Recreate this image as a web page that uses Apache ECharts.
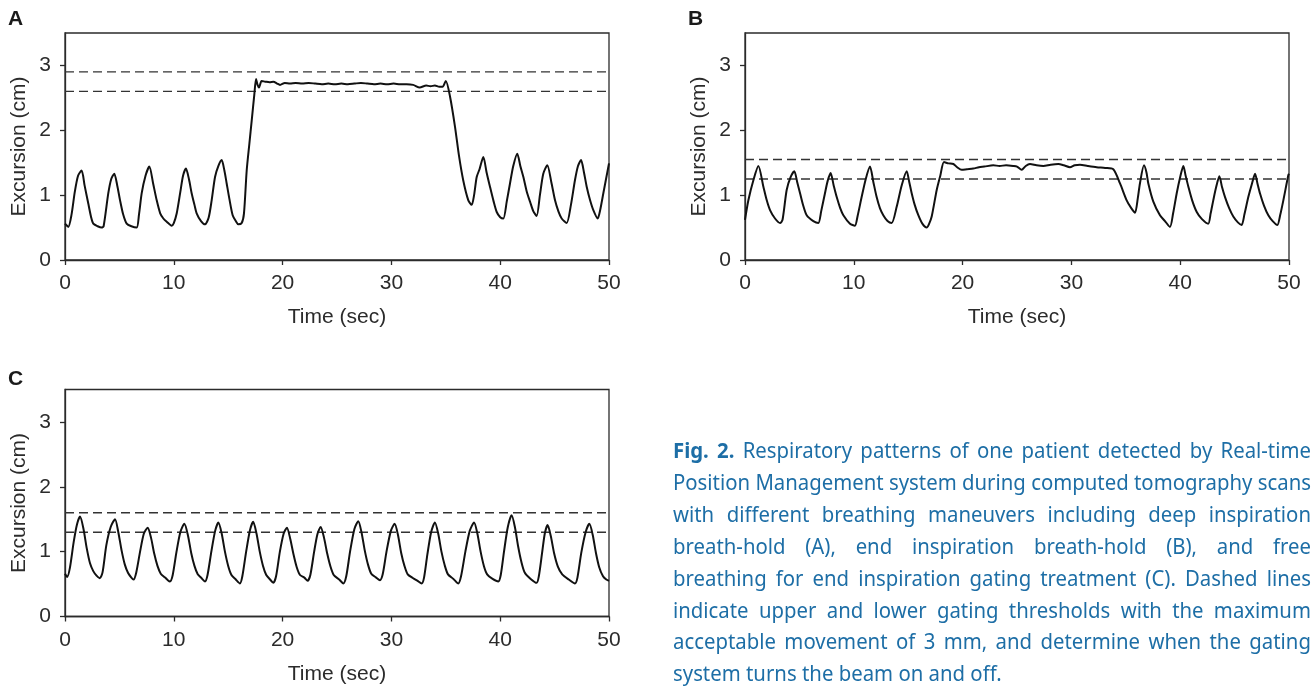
<!DOCTYPE html>
<html>
<head>
<meta charset="utf-8">
<script src="https://cdn.jsdelivr.net/npm/echarts@6/dist/echarts.min.js"></script>
<style>
  html, body { margin: 0; padding: 0; background: #fff; }
  #chart { position: absolute; left: 0; top: 0; width: 1313px; height: 687px; }
  #caption { position: absolute; left: 673px; top: 434px; width: 689.7px; color: #1d6ea6;
    transform: scaleX(0.925); transform-origin: 0 0;
    font-family: "Noto Sans", "Open Sans", sans-serif; font-size: 22px; line-height: 31.9px; }
  #caption div { text-align: justify; text-align-last: justify; white-space: nowrap; }
  #caption div.last { text-align-last: left; }
  #caption b { font-weight: bold; }
</style>
</head>
<body>
<div id="chart"></div>
<div id="caption">
  <div><b>Fig. 2.</b> Respiratory patterns of one patient detected by Real-time</div>
  <div>Position Management system during computed tomography scans</div>
  <div>with different breathing maneuvers including deep inspiration</div>
  <div>breath-hold (A), end inspiration breath-hold (B), and free</div>
  <div>breathing for end inspiration gating treatment (C). Dashed lines</div>
  <div>indicate upper and lower gating thresholds with the maximum</div>
  <div>acceptable movement of 3 mm, and determine when the gating</div>
  <div class="last">system turns the beam on and off.</div>
</div>
<script>
// ---- data ----
const panelLabels = ['A', 'B', 'C'];
const xTicks = [0, 10, 20, 30, 40, 50];
const yTicks = [0, 1, 2, 3];
const xAxisName = 'Time (sec)';
const yAxisName = 'Excursion (cm)';

const thresholdsA = [2.6, 2.9];
const thresholdsB = [1.25, 1.55];
const thresholdsC = [1.3, 1.6];

const traceA = [
  [0,0.56],[0.3,0.51],[0.6,0.7],[0.9,1.05],[1.2,1.3],[1.53,1.38],[1.8,1.15],[2.14,0.87],[2.4,0.66],[2.6,0.56],[3.0,0.52],[3.37,0.5],
  [3.55,0.52],[3.98,1.03],[4.25,1.25],[4.53,1.33],[4.8,1.15],[5.06,0.92],[5.35,0.7],[5.67,0.56],[6.1,0.52],[6.59,0.5],
  [6.8,0.7],[7.05,1.03],[7.4,1.3],[7.75,1.44],[8.1,1.18],[8.43,0.92],[8.75,0.72],[9.04,0.64],[9.35,0.59],[9.8,0.53],
  [10.0,0.57],[10.27,0.72],[10.6,1.05],[10.85,1.3],[11.12,1.41],[11.4,1.24],[11.64,1.03],[11.9,0.85],[12.1,0.72],[12.5,0.6],[12.87,0.55],
  [13.2,0.65],[13.48,0.92],[13.79,1.28],[14.1,1.45],[14.4,1.54],[14.65,1.38],[14.86,1.18],[15.1,0.95],[15.41,0.69],[15.7,0.6],[15.93,0.55],
  [16.24,0.57],[16.45,0.72],[16.7,1.38],[16.95,1.8],[17.16,2.15],[17.4,2.55],[17.56,2.79],[17.7,2.7],[17.83,2.66],[18.07,2.76],
  [18.4,2.75],[18.8,2.74],[19.15,2.75],[19.5,2.72],[19.76,2.7],[20.2,2.73],[20.68,2.72],[21.2,2.73],[21.8,2.72],[22.4,2.73],
  [23,2.72],[23.6,2.71],[24.2,2.72],[24.8,2.71],[25.4,2.72],[26,2.71],[26.6,2.72],[27.2,2.73],[27.8,2.72],[28.4,2.71],
  [29,2.72],[29.6,2.71],[30.2,2.72],[30.8,2.71],[31.4,2.71],[32,2.7],[32.6,2.66],[33.2,2.69],[33.6,2.68],[34.0,2.69],
  [34.4,2.67],[34.7,2.67],[35.0,2.76],[35.4,2.51],[35.85,2.05],[36.2,1.62],[36.6,1.23],[37.07,0.92],[37.38,0.85],
  [37.6,1.0],[37.84,1.28],[38.1,1.4],[38.45,1.59],[38.75,1.35],[39.06,1.13],[39.4,0.9],[39.68,0.74],[40.0,0.66],[40.29,0.64],
  [40.6,0.9],[40.9,1.18],[41.2,1.45],[41.57,1.64],[41.85,1.45],[42.13,1.28],[42.45,1.05],[42.74,0.9],[43.05,0.75],[43.35,0.68],
  [43.65,1.0],[43.96,1.33],[44.33,1.46],[44.7,1.2],[45.04,0.92],[45.35,0.75],[45.65,0.64],[46.11,0.57],
  [46.5,0.85],[46.87,1.23],[47.15,1.45],[47.43,1.54],[47.7,1.35],[47.95,1.13],[48.25,0.93],[48.56,0.77],[48.96,0.64],
  [49.2,0.78],[49.48,1.03],[50,1.49]
];

const traceB = [
  [0,0.62],[0.31,0.92],[0.77,1.23],[1.23,1.45],[1.69,1.13],[2.0,0.92],[2.3,0.77],[2.76,0.64],[3.22,0.57],
  [3.45,0.62],[3.83,1.08],[4.2,1.28],[4.53,1.37],[4.8,1.2],[5.06,1.03],[5.35,0.84],[5.67,0.69],[6.28,0.6],[6.74,0.57],
  [7.0,0.75],[7.35,1.03],[7.6,1.22],[7.87,1.34],[8.15,1.15],[8.43,0.97],[8.75,0.8],[9.04,0.69],[9.65,0.56],[10.1,0.53],
  [10.35,0.68],[10.72,0.97],[11.1,1.25],[11.49,1.44],[11.8,1.2],[12.1,0.97],[12.4,0.8],[12.71,0.69],[13.1,0.6],[13.48,0.57],
  [13.94,0.82],[14.4,1.15],[14.86,1.37],[15.1,1.2],[15.32,1.03],[15.6,0.85],[15.93,0.69],[16.3,0.56],[16.7,0.5],
  [16.9,0.55],[17.16,0.67],[17.62,1.08],[17.95,1.3],[18.29,1.51],[18.7,1.49],[19.15,1.48],[19.5,1.43],[19.92,1.39],
  [20.4,1.4],[20.98,1.41],[21.5,1.43],[22.0,1.44],[22.82,1.46],[23.4,1.45],[24.0,1.46],[24.66,1.45],[25.0,1.44],[25.43,1.39],
  [25.8,1.45],[26.19,1.48],[26.8,1.46],[27.42,1.45],[28.1,1.47],[28.8,1.48],[29.3,1.46],[29.87,1.43],[30.3,1.46],[30.79,1.47],
  [31.5,1.45],[32.32,1.43],[33.1,1.42],[33.85,1.4],[34.47,1.18],[35.08,0.92],[35.5,0.8],[35.85,0.73],
  [36.1,0.95],[36.3,1.18],[36.67,1.46],[36.9,1.35],[37.07,1.18],[37.53,0.9],[38.14,0.69],[38.6,0.6],[39.06,0.51],
  [39.35,0.72],[39.68,1.03],[40.0,1.28],[40.29,1.45],[40.5,1.3],[40.75,1.13],[41.1,0.92],[41.52,0.74],[42.0,0.63],[42.58,0.56],
  [42.8,0.72],[43.04,0.92],[43.3,1.12],[43.6,1.29],[43.85,1.12],[44.12,0.97],[44.5,0.8],[44.88,0.67],[45.3,0.58],[45.65,0.54],
  [45.9,0.7],[46.26,0.97],[46.6,1.18],[46.88,1.33],[47.1,1.18],[47.33,1.03],[47.7,0.84],[48.1,0.69],[48.5,0.6],[48.93,0.54],
  [49.2,0.7],[49.48,0.92],[49.94,1.31],[50,1.33]
];

const traceC = [
  [0,0.66],[0.2,0.61],[0.45,0.75],[0.8,1.15],[1.1,1.42],[1.38,1.54],[1.7,1.35],[2.0,1.05],[2.3,0.82],[2.6,0.7],[2.9,0.63],[3.2,0.59],
  [3.45,0.68],[3.8,1.1],[4.2,1.38],[4.6,1.5],[4.9,1.3],[5.2,1.02],[5.5,0.8],[5.8,0.67],[6.1,0.6],[6.3,0.57],
  [6.55,0.68],[6.9,1.0],[7.25,1.28],[7.6,1.37],[7.9,1.22],[8.2,0.97],[8.5,0.78],[8.8,0.66],[9.2,0.6],[9.45,0.56],[9.65,0.54],
  [9.9,0.64],[10.25,1.0],[10.6,1.3],[10.97,1.43],[11.3,1.25],[11.6,0.98],[11.9,0.78],[12.2,0.65],[12.5,0.6],[12.87,0.54],
  [13.1,0.64],[13.45,1.0],[13.8,1.32],[14.1,1.45],[14.4,1.28],[14.7,1.0],[15.0,0.78],[15.3,0.64],[15.7,0.57],[16.08,0.51],
  [16.3,0.62],[16.65,1.0],[17.0,1.33],[17.3,1.46],[17.6,1.28],[17.9,1.0],[18.2,0.78],[18.5,0.64],[18.85,0.57],[19.15,0.52],
  [19.4,0.62],[19.75,1.0],[20.1,1.28],[20.4,1.37],[20.7,1.2],[21.0,0.96],[21.3,0.76],[21.6,0.64],[22.0,0.6],[22.3,0.55],
  [22.55,0.64],[22.9,1.0],[23.2,1.27],[23.5,1.38],[23.8,1.22],[24.1,0.97],[24.4,0.77],[24.7,0.64],[25.2,0.57],[25.58,0.51],
  [25.85,0.62],[26.2,1.0],[26.6,1.35],[26.96,1.47],[27.25,1.3],[27.55,1.02],[27.85,0.8],[28.15,0.66],[28.6,0.6],[28.95,0.56],
  [29.2,0.65],[29.55,1.0],[29.95,1.32],[30.3,1.43],[30.6,1.26],[30.9,0.98],[31.2,0.78],[31.5,0.65],[32.0,0.59],[32.4,0.55],[32.78,0.51],
  [33.0,0.6],[33.3,0.95],[33.65,1.3],[34.0,1.45],[34.3,1.28],[34.6,1.0],[34.9,0.79],[35.2,0.65],[35.7,0.58],[36.15,0.51],
  [36.4,0.62],[36.8,1.0],[37.2,1.32],[37.6,1.45],[37.9,1.28],[38.2,1.0],[38.5,0.78],[38.8,0.65],[39.3,0.58],[39.83,0.54],
  [40.05,0.64],[40.35,1.0],[40.7,1.38],[41.05,1.56],[41.35,1.38],[41.65,1.08],[41.95,0.84],[42.25,0.68],[42.8,0.58],[43.35,0.52],
  [43.55,0.62],[43.85,0.98],[44.1,1.28],[44.36,1.41],[44.65,1.24],[44.95,0.98],[45.3,0.77],[45.7,0.65],[46.3,0.57],[46.87,0.51],
  [47.1,0.6],[47.45,0.98],[47.85,1.3],[48.2,1.43],[48.5,1.26],[48.8,0.98],[49.1,0.76],[49.45,0.62],[49.75,0.57],[50,0.55]
];

// ---- chart ----
const FONT = '"Liberation Sans", Arial, sans-serif';
const AX = '#2b2b2b';
const FS = 21;
const grids = [
  { left: 65, top: 33, width: 544, height: 227 },
  { left: 745, top: 33, width: 544, height: 227 },
  { left: 65, top: 389.5, width: 544, height: 227 }
];
const traces = [traceA, traceB, traceC];
const thresholds = [thresholdsA, thresholdsB, thresholdsC];

const option = {
  animation: false,
  backgroundColor: '#fff',
  grid: grids.map(g => Object.assign({ show: true, borderColor: AX, borderWidth: 1.3, backgroundColor: 'transparent' }, g)),
  xAxis: grids.map((g, i) => ({
    type: 'value', gridIndex: i, min: 0, max: 50, interval: 10,
    name: xAxisName, nameLocation: 'middle', nameGap: 47,
    nameTextStyle: { fontFamily: FONT, fontSize: FS, color: AX },
    axisLine: { show: true, lineStyle: { color: AX, width: 1.3 } },
    axisTick: { show: true, length: 5, lineStyle: { color: AX, width: 1.3 }, customValues: xTicks },
    axisLabel: { fontFamily: FONT, fontSize: FS, color: AX, margin: 13, customValues: xTicks },
    splitLine: { show: false }
  })),
  yAxis: grids.map((g, i) => ({
    type: 'value', gridIndex: i, min: 0, max: 3.5, interval: 1,
    name: yAxisName, nameLocation: 'middle', nameGap: 35, nameRotate: 90,
    nameTextStyle: { fontFamily: FONT, fontSize: FS, color: AX },
    axisLine: { show: true, lineStyle: { color: AX, width: 1.3 } },
    axisTick: { show: true, length: 5, lineStyle: { color: AX, width: 1.3 }, customValues: yTicks },
    axisLabel: { fontFamily: FONT, fontSize: FS, color: AX, margin: 14, customValues: yTicks },
    splitLine: { show: false }
  })),
  graphic: panelLabels.map((t, i) => ({
    type: 'text', left: i === 1 ? 688 : 8, top: i === 2 ? 369 : 9,
    style: { text: t, font: 'bold 21px ' + FONT, fill: '#1a1a1a' }
  })),
  series: []
};

traces.forEach((tr, i) => {
  thresholds[i].forEach(th => {
    option.series.push({
      type: 'line', xAxisIndex: i, yAxisIndex: i, symbol: 'none', silent: true,
      data: [[0, th], [50, th]],
      lineStyle: { color: '#333', width: 1.4, type: [9, 5] }
    });
  });
  option.series.push({
    type: 'line', xAxisIndex: i, yAxisIndex: i, symbol: 'none', silent: true,
    data: tr, smooth: 0.25,
    lineStyle: { color: '#111', width: 2 }
  });
});

const chart = echarts.init(document.getElementById('chart'), null, { renderer: 'canvas' });
chart.setOption(option);
</script>
</body>
</html>
